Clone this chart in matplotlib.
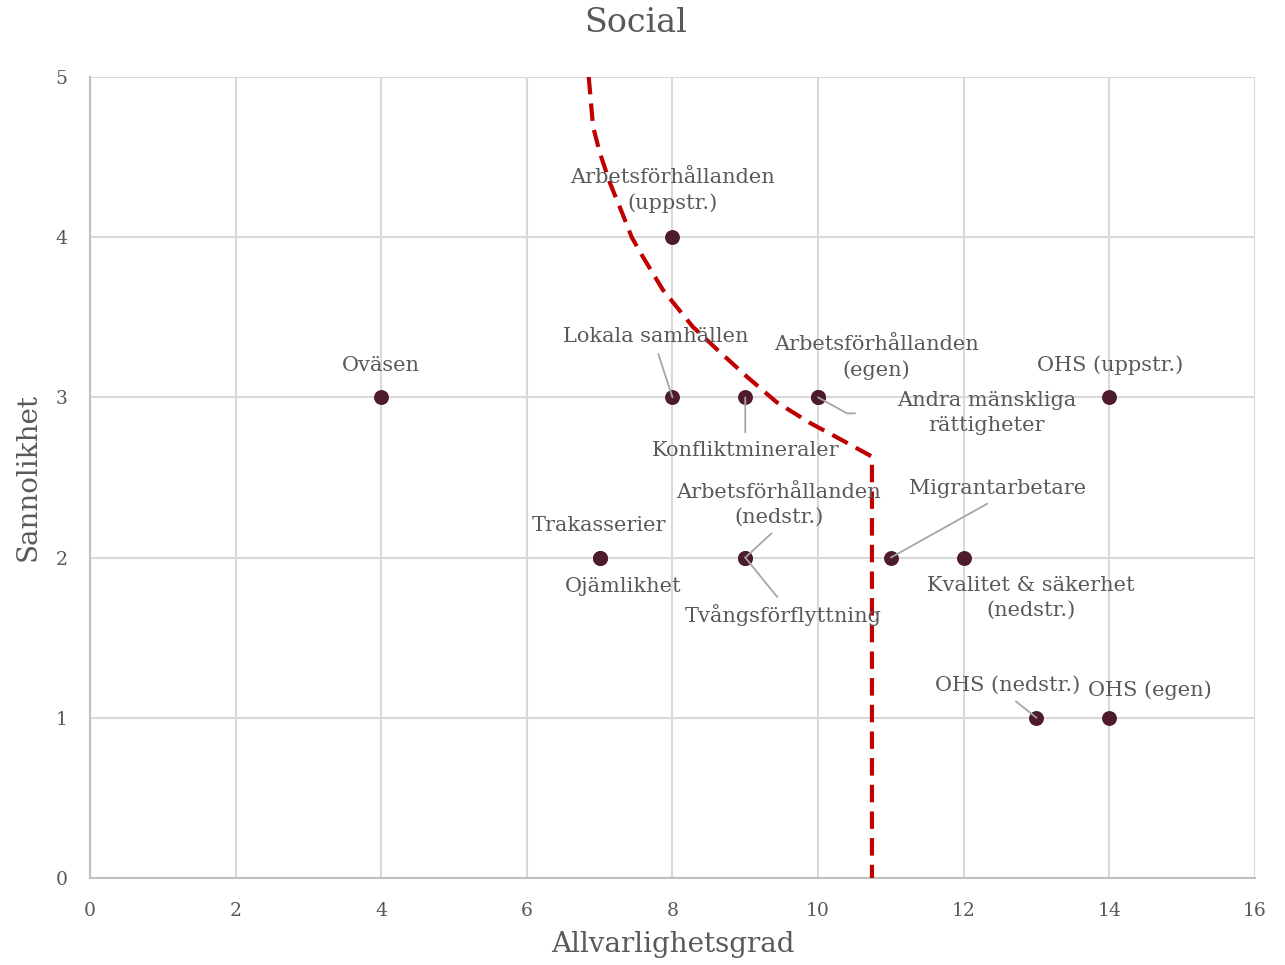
import numpy as np
import matplotlib
matplotlib.use('Agg')
import matplotlib.pyplot as plt

### data ###
labels = ['Oväsen', 'Arbetsförhållanden\n(uppstr.)', 'Lokala samhällen', 'Konfliktmineraler',
          'Arbetsförhållanden\n(egen)', 'Andra mänskliga\nrättigheter', 'OHS (uppstr.)',
          'Trakasserier', 'Ojämlikhet', 'Arbetsförhållanden\n(nedstr.)', 'Tvångsförflyttning',
          'Migrantarbetare', 'Kvalitet & säkerhet\n(nedstr.)', 'OHS (nedstr.)', 'OHS (egen)']
severity   = [4, 8, 8, 9, 10, 10, 14, 7, 7, 9, 9, 11, 12, 13, 14]
likelihood = [3, 4, 3, 3, 3, 3, 3, 2, 2, 2, 2, 2, 2, 1, 1]

# red threshold line
limit_x = [6.85, 6.91, 7.00, 7.14, 7.31, 7.44, 7.59, 7.87, 8.28, 8.61, 9.02, 9.43, 9.89, 10.34, 10.74, 10.74]
limit_y = [5.00, 4.69, 4.53, 4.34, 4.15, 4.00, 3.88, 3.67, 3.44, 3.30, 3.13, 2.97, 2.84, 2.73, 2.63, 0.00]

### label placement (data coords) and leader lines ###
label_pos = [(4.0, 3.20), (8.0, 4.29), (7.77, 3.38), (9.0, 2.67),
             (10.80, 3.25), (12.31, 2.90), (14.01, 3.20),
             (6.99, 2.20), (7.33, 1.82), (9.46, 2.33), (9.52, 1.64),
             (12.46, 2.43), (12.92, 1.75), (12.61, 1.20), (14.56, 1.17)]
# None = no leader, otherwise relpos on the text box
leader = [None, None, (0.5, 0.0), (0.5, 1.0),
          None, 'elbow', None,
          None, None, (0.5, 0.0), (0.5, 1.0),
          (0.5, 0.0), None, (0.5, 0.0), None]

text_col = '#595959'
grid_col = '#d9d9d9'
dot_col = '#4d1a2e'
font = ['DejaVu Serif']

plt.rcParams['font.family'] = font

fig = plt.figure(figsize=(12.85, 9.65), dpi=100)
ax = fig.add_axes([0.0700, 0.0902, 0.9066, 0.8301])

ax.set_xlim(0, 16)
ax.set_ylim(0, 5)
ax.set_xticks(np.arange(0, 17, 2))
ax.set_yticks(np.arange(0, 6, 1))
ax.grid(True, color=grid_col, linewidth=1.5)
ax.set_axisbelow(True)
for side in ['top', 'right']:
    ax.spines[side].set_visible(False)
for side in ['left', 'bottom']:
    ax.spines[side].set_color('#bfbfbf')
    ax.spines[side].set_linewidth(1.5)
ax.tick_params(length=0, colors=text_col, labelsize=13.5)
ax.tick_params(axis='x', pad=17)
ax.tick_params(axis='y', pad=16)

ax.plot(limit_x, limit_y, color='#c00000', linewidth=3, dashes=(4.2, 2.2), zorder=3)
ax.scatter(severity, likelihood, s=115, color=dot_col, zorder=4, linewidths=0)

for i in range(len(labels)):
    tx, ty = label_pos[i]
    kw = {}
    if leader[i] == 'elbow':
        kw['arrowprops'] = dict(arrowstyle='-', color='#a6a6a6', lw=1.3,
                                relpos=(0.0, 0.5), shrinkA=28, shrinkB=0,
                                connectionstyle='angle,angleA=0,angleB=-29,rad=0')
    elif leader[i] is not None:
        kw['arrowprops'] = dict(arrowstyle='-', color='#a6a6a6', lw=1.3,
                                relpos=leader[i], shrinkA=4, shrinkB=0)
    ax.annotate(labels[i], xy=(severity[i], likelihood[i]), xytext=(tx, ty),
                ha='center', va='center', fontsize=15, color=text_col,
                linespacing=1.4, zorder=5, **kw)

fig.text(636 / 1285, 1 - 23 / 965, 'Social', fontsize=24, color=text_col,
         ha='center', va='center')
ax.set_xlabel('Allvarlighetsgrad', fontsize=20, color=text_col, labelpad=8)
ax.set_ylabel('Sannolikhet', fontsize=20, color=text_col, labelpad=10)

fig.savefig('out.png', dpi=100)
